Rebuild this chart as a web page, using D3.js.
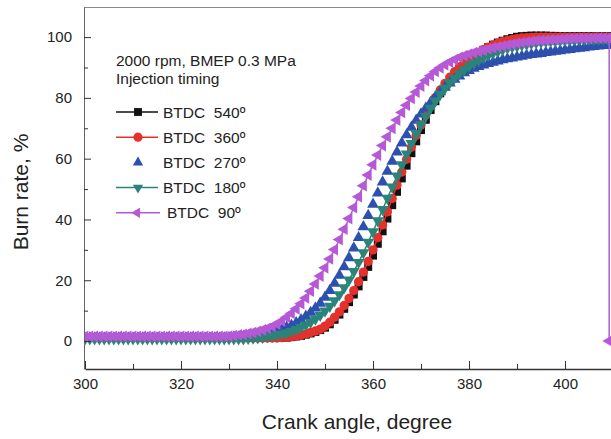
<!DOCTYPE html>
<html>
<head>
<meta charset="utf-8">
<script src="https://cdn.jsdelivr.net/npm/d3@7"></script>
<style>
  body { margin: 0; background: #fff; }
  text { font-family: "Liberation Sans", Arial, sans-serif; fill: #222; }
</style>
</head>
<body>
<script>
// crank angle, degree (one reading per degree)
var angles = d3.range(300, 411);

var btdc540 = [
  1.0, 1.0, 1.0, 1.0, 1.0, 1.0, 1.0, 1.0, 1.0, 1.0,
  1.0, 1.0, 1.0, 1.0, 1.0, 1.0, 1.0, 1.0, 1.0, 1.0,
  1.0, 1.0, 1.0, 1.0, 1.0, 1.0, 1.0, 1.0, 1.0, 1.0,
  1.0, 1.0, 1.0, 1.0, 1.0, 1.0, 1.0, 1.0, 1.0, 1.0,
  1.0, 1.0, 1.1, 1.3, 1.5, 1.7, 2.1, 2.5, 3.0, 3.6,
  4.4, 5.5, 7.0, 8.7, 10.6, 12.8, 15.3, 18.0, 21.1, 24.4,
  28.1, 32.0, 36.1, 40.3, 44.7, 49.1, 53.5, 57.7, 61.8, 65.7,
  69.4, 72.8, 76.0, 78.9, 81.5, 83.9, 86.0, 87.9, 89.6, 91.1,
  92.5, 93.7, 94.8, 95.8, 96.7, 97.5, 98.2, 98.8, 99.3, 99.7,
  100.1, 100.3, 100.4, 100.5, 100.5, 100.5, 100.5, 100.4, 100.4, 100.3,
  100.3, 100.3, 100.3, 100.3, 100.3, 100.3, 100.3, 100.3, 100.3, 100.3, 100.3
];
var btdc360 = [
  1.0, 1.0, 1.0, 1.0, 1.0, 1.0, 1.0, 1.0, 1.0, 1.0,
  1.0, 1.0, 1.0, 1.0, 1.0, 1.0, 1.0, 1.0, 1.0, 1.0,
  1.0, 1.0, 1.0, 1.0, 1.0, 1.0, 1.0, 1.0, 1.0, 1.0,
  1.0, 1.0, 1.0, 1.0, 1.0, 1.0, 1.0, 1.0, 1.0, 1.0,
  1.0, 1.1, 1.2, 1.4, 1.6, 1.9, 2.3, 2.8, 3.3, 3.9,
  4.9, 6.2, 7.8, 9.6, 11.7, 14.0, 16.6, 19.5, 22.7, 26.2,
  30.0, 34.0, 38.2, 42.5, 46.9, 51.3, 55.6, 59.8, 63.8, 67.6,
  71.1, 74.4, 77.4, 80.1, 82.6, 84.8, 86.8, 88.6, 90.2, 91.6,
  92.9, 94.0, 95.0, 95.9, 96.7, 97.4, 98.0, 98.5, 98.9, 99.2,
  99.5, 99.7, 99.8, 99.9, 100, 100, 100, 100, 100, 100,
  100, 100, 100, 100, 100, 100, 100, 100, 100, 100, 100
];
var btdc270 = [
  1.0, 1.0, 1.0, 1.0, 1.0, 1.0, 1.0, 1.0, 1.0, 1.0,
  1.0, 1.0, 1.0, 1.0, 1.0, 1.0, 1.0, 1.0, 1.0, 1.0,
  1.0, 1.0, 1.0, 1.0, 1.0, 1.0, 1.0, 1.0, 1.0, 1.0,
  1.1, 1.2, 1.3, 1.5, 1.7, 1.9, 2.1, 2.4, 2.7, 3.0,
  3.4, 3.9, 4.5, 5.2, 6.0, 7.0, 8.1, 9.4, 10.8, 12.4,
  14.4, 16.6, 19.0, 21.6, 24.4, 27.4, 30.6, 34.0, 37.6, 41.3,
  45.0, 48.7, 52.3, 55.8, 59.1, 62.2, 65.1, 67.8, 70.3, 72.6,
  74.7, 76.6, 78.5, 80.3, 82.0, 83.5, 84.9, 86.1, 87.2, 88.2,
  89.0, 89.7, 90.3, 90.8, 91.3, 91.7, 92.1, 92.5, 92.8, 93.1,
  93.4, 93.7, 94.0, 94.2, 94.4, 94.6, 94.9, 95.1, 95.3, 95.5,
  95.7, 95.9, 96.1, 96.3, 96.5, 96.7, 96.9, 97.0, 97.2, 97.3, 97.4
];
var btdc180 = [
  0.8, 0.8, 0.8, 0.8, 0.8, 0.8, 0.8, 0.8, 0.8, 0.8,
  0.8, 0.8, 0.8, 0.8, 0.8, 0.8, 0.8, 0.8, 0.8, 0.8,
  0.8, 0.8, 0.8, 0.8, 0.8, 0.8, 0.8, 0.8, 0.8, 0.8,
  0.8, 0.8, 0.8, 0.8, 0.9, 1.0, 1.1, 1.3, 1.5, 1.7,
  2.0, 2.3, 2.7, 3.2, 3.8, 4.5, 5.3, 6.2, 7.3, 8.5,
  9.9, 11.5, 13.3, 15.3, 17.6, 20.1, 22.9, 25.9, 29.1, 32.5,
  36.0, 39.6, 43.3, 47.0, 50.7, 54.3, 58.0, 61.6, 65.0, 68.2,
  71.2, 74.0, 76.6, 79.0, 81.2, 83.2, 85.0, 86.6, 88.0, 89.3,
  90.5, 91.5, 92.4, 93.2, 94.0, 94.7, 95.3, 95.9, 96.4, 96.8,
  97.0, 97.4, 97.7, 98.0, 98.2, 98.4, 98.6, 98.7, 98.8, 98.9,
  99.0, 99.0, 99.1, 99.1, 99.2, 99.2, 99.2, 99.3, 99.3, 99.3, 99.3
];
// 90 deg ends at 409 degrees, then the trace drops to zero at the frame edge
var btdc90 = [
  1.5, 1.5, 1.5, 1.5, 1.5, 1.5, 1.5, 1.5, 1.5, 1.5,
  1.5, 1.5, 1.5, 1.5, 1.5, 1.5, 1.5, 1.5, 1.5, 1.5,
  1.5, 1.5, 1.5, 1.5, 1.5, 1.5, 1.5, 1.5, 1.5, 1.5,
  1.6, 1.8, 2.0, 2.2, 2.5, 2.8, 3.2, 3.7, 4.2, 4.8,
  5.6, 6.6, 7.8, 9.1, 10.6, 12.3, 14.2, 16.4, 18.8, 21.4,
  24.1, 27.0, 30.1, 33.4, 36.8, 40.3, 43.9, 47.5, 51.1, 54.6,
  58.0, 61.2, 64.3, 67.2, 70.0, 72.7, 75.2, 77.6, 79.8, 81.9,
  83.9, 85.7, 87.3, 88.7, 89.9, 90.9, 91.8, 92.6, 93.3, 93.9,
  94.4, 94.9, 95.3, 95.7, 96.1, 96.5, 96.8, 97.1, 97.4, 97.7,
  98.0, 98.2, 98.4, 98.6, 98.8, 98.9, 99.0, 99.1, 99.2, 99.3,
  99.4, 99.5, 99.5, 99.6, 99.6, 99.6, 99.7, 99.7, 99.7, 99.7
];
var tailAngles90 = [409.2, 409.2];
var tailValues90 = [99.7, 0];

var xTicks = [300, 320, 340, 360, 380, 400];
var xMinor = [310, 330, 350, 370, 390, 410];
var yTicks = [0, 20, 40, 60, 80, 100];
var yMinor = [10, 30, 50, 70, 90];

var legendTitle = ["2000 rpm, BMEP 0.3 MPa", "Injection timing"];

var series = [
  {name: "BTDC  540º", values: btdc540, angles: angles, color: "#111111", symbol: d3.symbolSquare, size: 64, leg: 62, rot: 0, line: true},
  {name: "BTDC  360º", values: btdc360, angles: angles, color: "#e4312b", symbol: d3.symbolCircle, size: 68, leg: 66, rot: 0, line: true},
  {name: "BTDC  270º", values: btdc270, angles: angles, color: "#2d4fae", symbol: d3.symbolTriangle, size: 60, leg: 46, rot: 0, line: false},
  {name: "BTDC  180º", values: btdc180, angles: angles, color: "#2b8479", symbol: d3.symbolTriangle, size: 60, leg: 46, rot: 180, line: true},
  {name: "BTDC  90º", values: btdc90.concat(tailValues90), angles: angles.slice(0, btdc90.length).concat(tailAngles90),
   color: "#b659d6", symbol: d3.symbolTriangle, size: 60, leg: 46, rot: -90, line: true}
];

var W = 611, H = 439;
var svg = d3.select("body").append("svg").attr("width", W).attr("height", H);

var x = d3.scaleLinear().domain([300, 420]).range([85, 661]);
var y = d3.scaleLinear().domain([-9.2, 109.9]).range([369, 7]);

svg.append("clipPath").attr("id", "plot")
  .append("rect").attr("x", 84).attr("y", 7).attr("width", W - 84).attr("height", 362);

// frame top
svg.append("line")
  .attr("x1", 84).attr("x2", W).attr("y1", 7.5).attr("y2", 7.5)
  .attr("stroke", "#8a8a8a").attr("stroke-width", 1);

// series
var plot = svg.append("g").attr("clip-path", "url(#plot)");
series.forEach(function(s) {
  var pts = s.values.map(function(v, i) { return [s.angles[i], v]; });
  if (s.line) {
    plot.append("path")
      .datum(pts)
      .attr("fill", "none")
      .attr("stroke", s.color)
      .attr("stroke-width", 1.5)
      .attr("d", d3.line().x(function(d) { return x(d[0]); }).y(function(d) { return y(d[1]); }));
  }
  plot.append("g").selectAll("path")
    .data(pts)
    .join("path")
    .attr("d", d3.symbol().type(s.symbol).size(s.size))
    .attr("fill", s.color)
    .attr("transform", function(d) {
      return "translate(" + x(d[0]) + "," + y(d[1]) + ") rotate(" + s.rot + ")";
    });
});

// axes
var xAxis = svg.append("g").attr("transform", "translate(0,369)")
  .call(d3.axisBottom(x).tickValues(xTicks).tickSize(-8).tickSizeOuter(0).tickPadding(9));
svg.append("g").attr("transform", "translate(0,369)")
  .call(d3.axisBottom(x).tickValues(xMinor).tickSize(-5).tickSizeOuter(0).tickFormat(""))
  .select(".domain").remove();
var yAxis = svg.append("g").attr("transform", "translate(84,0)")
  .call(d3.axisLeft(y).tickValues(yTicks).tickSize(-7).tickSizeOuter(0).tickPadding(12));
svg.append("g").attr("transform", "translate(84,0)")
  .call(d3.axisLeft(y).tickValues(yMinor).tickSize(-4).tickSizeOuter(0).tickFormat(""))
  .select(".domain").remove();

svg.selectAll(".tick text").attr("font-size", 15).attr("font-family", "Liberation Sans, Arial, sans-serif").attr("fill", "#222");
svg.selectAll(".tick line").attr("stroke", "#333");
xAxis.select(".domain").attr("stroke", "#333").attr("stroke-width", 1.3);
yAxis.select(".domain").attr("stroke", "#666");

// axis titles
svg.append("text")
  .attr("x", 357).attr("y", 429)
  .attr("text-anchor", "middle").attr("font-size", 21)
  .text("Crank angle, degree");
svg.append("text")
  .attr("transform", "translate(28,192) rotate(-90)")
  .attr("text-anchor", "middle").attr("font-size", 21)
  .text("Burn rate, %");

// legend
var leg = svg.append("g");
legendTitle.forEach(function(t, i) {
  leg.append("text").attr("x", 116).attr("y", 66 + i * 18).attr("font-size", 15.5).text(t);
});
series.forEach(function(s, i) {
  var cy = 112 + i * 25.2;
  var last = i === series.length - 1;
  if (s.line) {
    leg.append("line")
      .attr("x1", 116).attr("x2", last ? 160 : 158)
      .attr("y1", cy).attr("y2", cy)
      .attr("stroke", s.color).attr("stroke-width", 1.5);
  }
  leg.append("path")
    .attr("d", d3.symbol().type(s.symbol).size(s.leg))
    .attr("fill", s.color)
    .attr("transform", "translate(" + (last ? 137 : 138) + "," + cy + ") rotate(" + s.rot + ")");
  leg.append("text")
    .attr("x", last ? 167 : 163).attr("y", cy + 5.5)
    .attr("font-size", 15.5)
    .style("white-space", "pre")
    .text(s.name);
});
</script>
</body>
</html>
